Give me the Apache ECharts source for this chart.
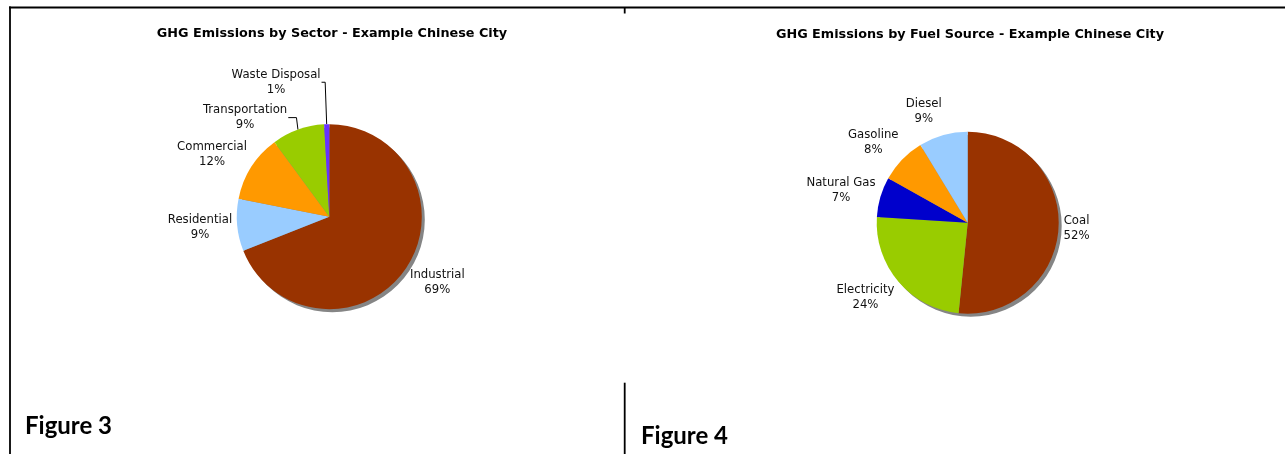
<!DOCTYPE html>
<html>
<head>
<meta charset="utf-8">
<script src="https://cdn.jsdelivr.net/npm/echarts@6/dist/echarts.min.js"></script>
<style>
  html, body { margin: 0; padding: 0; background: #fff; }
  #chart { width: 1285px; height: 454px; }
</style>
</head>
<body>
<div id="chart"></div>
<script>
// ---- Data ----
const sectorTitle = 'GHG Emissions by Sector - Example Chinese City';
const sectorNames = ['Industrial', 'Residential', 'Commercial', 'Transportation', 'Waste Disposal'];
const sectorValues = [69.0, 9.1, 11.8, 9.2, 0.9];

const fuelTitle = 'GHG Emissions by Fuel Source - Example Chinese City';
const fuelNames = ['Coal', 'Electricity', 'Natural Gas', 'Gasoline', 'Diesel'];
const fuelValues = [51.6, 24.4, 7.1, 8.2, 8.7];

const figureLabels = ['Figure 3', 'Figure 4'];

// ---- Styles ----
const sectorColors = ['#993300', '#99CCFF', '#FF9900', '#99CC00', '#6633FF'];
const fuelColors = ['#993300', '#99CC00', '#0000CC', '#FF9900', '#99CCFF'];

const pieL = { cx: 329.3, cy: 216.7, r: 92.5 };
const pieR = { cx: 967.7, cy: 222.7, r: 91 };
const labelGap = 5;
const labelYFactor = 1.3;
// manual label nudges (as dragged in the original) and which labels get leader lines
const sectorNudge = { 'Waste Disposal': [-6, -17.5], 'Transportation': [-9, 11] };
const sectorLeader = { 'Waste Disposal': true, 'Transportation': true };

const labelFont = { fontFamily: 'DejaVu Sans', fontSize: 11.7, lineHeight: 15, color: '#111' };

function makeLabelLayout(names, values, pie, nudges, leaders) {
  const total = values.reduce((a, b) => a + b, 0);
  const mids = [];
  let acc = 0;
  values.forEach(v => { mids.push((acc + v / 2) / total * 2 * Math.PI); acc += v; });
  return function (p) {
    const i = p.dataIndex;
    const a = mids[i];
    const dx = Math.sin(a), dy = -Math.cos(a);
    const w = p.labelRect.width, h = p.labelRect.height;
    const ax = pie.cx + (pie.r + labelGap) * dx;
    const ay = pie.cy + (pie.r + labelGap) * dy;
    const n = nudges[names[i]] || [0, 0];
    const lx = ax + (w / 2) * (dx >= 0 ? 1 : -1) + n[0];
    const ly = ay + (h / 2) * dy * labelYFactor + n[1];
    const res = { x: lx, y: ly, align: 'center', verticalAlign: 'middle' };
    if (leaders[names[i]]) {
      const ex = pie.cx + pie.r * dx, ey = pie.cy + pie.r * dy;
      res.labelLinePoints = [[lx + w / 2 + 1, ly], [ex - 1.5, ly], [ex, ey]];
    }
    return res;
  };
}

function buildData(names, values, colors, leaders) {
  return names.map((n, i) => ({
    name: n,
    value: values[i],
    itemStyle: { color: colors[i] },
    labelLine: { show: !!leaders[n], lineStyle: { color: '#000', width: 1 } }
  }));
}

function shadowSeries(pie) {
  return {
    type: 'pie', silent: true, animation: false,
    center: [pie.cx + 3, pie.cy + 3], radius: pie.r,
    label: { show: false }, labelLine: { show: false },
    data: [{ value: 1, itemStyle: { color: '#858585' } }]
  };
}

function mainSeries(names, values, colors, pie, nudges, leaders) {
  return {
    type: 'pie', animation: false,
    center: [pie.cx, pie.cy], radius: pie.r,
    startAngle: 90, clockwise: true,
    avoidLabelOverlap: false,
    itemStyle: { borderWidth: 0 },
    emphasis: { disabled: true },
    label: Object.assign({
      show: true, position: 'outside', align: 'center',
      formatter: p => p.name + '\n' + Math.round(p.percent) + '%'
    }, labelFont),
    labelLine: { show: false, length: 5, length2: 5 },
    labelLayout: makeLabelLayout(names, values, pie, nudges, leaders),
    data: buildData(names, values, colors, leaders)
  };
}

const lineStyle = { stroke: '#000', lineWidth: 1.8 };
const chart = echarts.init(document.getElementById('chart'), null, { renderer: 'canvas' });
chart.setOption({
  backgroundColor: '#fff',
  graphic: [
    { type: 'line', shape: { x1: 9, y1: 7.5, x2: 1285, y2: 7.5 }, style: lineStyle },
    { type: 'line', shape: { x1: 10, y1: 6.6, x2: 10, y2: 454 }, style: lineStyle },
    { type: 'line', shape: { x1: 624.7, y1: 7.5, x2: 624.7, y2: 13.5 }, style: lineStyle },
    { type: 'line', shape: { x1: 624.7, y1: 382.7, x2: 624.7, y2: 454 }, style: lineStyle },
    { type: 'text', x: 332, y: 33.5, style: { text: sectorTitle, font: 'bold 12.8px "DejaVu Sans"', fill: '#000', align: 'center', verticalAlign: 'middle' } },
    { type: 'text', x: 970, y: 35, style: { text: fuelTitle, font: 'bold 12.8px "DejaVu Sans"', fill: '#000', align: 'center', verticalAlign: 'middle' } },
    { type: 'text', x: 25, y: 414.5, style: { text: figureLabels[0], font: 'bold 24px Lato', fill: '#000', align: 'left', verticalAlign: 'alphabetic' } },
    { type: 'text', x: 641, y: 424.5, style: { text: figureLabels[1], font: 'bold 24px Lato', fill: '#000', align: 'left', verticalAlign: 'alphabetic' } }
  ],
  series: [
    shadowSeries(pieL),
    shadowSeries(pieR),
    mainSeries(sectorNames, sectorValues, sectorColors, pieL, sectorNudge, sectorLeader),
    mainSeries(fuelNames, fuelValues, fuelColors, pieR, {}, {})
  ]
});
</script>
</body>
</html>
